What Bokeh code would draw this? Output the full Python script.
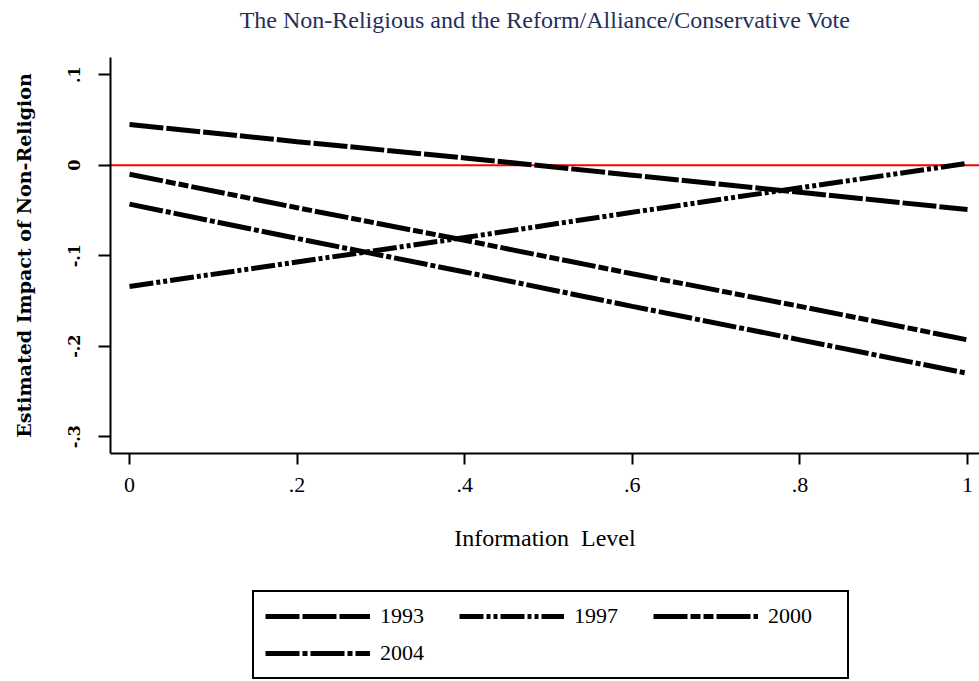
from bokeh.plotting import figure
from bokeh.layouts import column
from bokeh.models import Legend, LegendItem, Span, FixedTicker, Range1d, ColumnDataSource, Title
from bokeh.embed import file_html
from bokeh.resources import INLINE

# ---- data ----
info_level = [0.0, 0.2, 0.4, 0.6, 0.8, 1.0]
impact_1993 = [0.045, 0.026, 0.008, -0.011, -0.030, -0.049]
impact_1997 = [-0.134, -0.107, -0.080, -0.052, -0.025, 0.002]
impact_2000 = [-0.010, -0.047, -0.083, -0.120, -0.156, -0.193]
impact_2004 = [-0.043, -0.081, -0.118, -0.156, -0.193, -0.230]
years = ["1993", "1997", "2000", "2004"]

x_ticks = [0, 0.2, 0.4, 0.6, 0.8, 1]
x_tick_labels = ["0", ".2", ".4", ".6", ".8", "1"]
y_ticks = [0.1, 0, -0.1, -0.2, -0.3]
y_tick_labels = [".1", "0", "-.1", "-.2", "-.3"]

title_text = "The Non-Religious and the Reform/Alliance/Conservative Vote"
x_title = "Information\u00a0\u00a0Level"
y_title = "Estimated Impact of Non-Religion"

# ---- styles ----
dashes = ["34 3", "24 3 4 3 4 3", "34 3 10 3 10 3", "34 3 5 3"]
serif = "Liberation Serif"

p = figure(width=979, height=581, output_backend="svg", toolbar_location=None,
           x_range=Range1d(-0.0227, 1.0143), y_range=Range1d(-0.3186, 0.119),
           min_border_left=110, min_border_right=0, min_border_top=57,
           min_border_bottom=128, title=title_text)
p.outline_line_color = None
p.background_fill_color = "white"
p.border_fill_color = "white"
p.xgrid.visible = False
p.ygrid.visible = False

p.title.align = "center"
p.title.text_font = serif
p.title.text_font_size = "24px"
p.title.text_font_style = "normal"
p.title.text_color = "#1f2f5e"
p.title.standoff = 4
# small spacer between the title and the frame
p.add_layout(Title(text=" ", text_font_size="1px", standoff=20), "above")

# x axis
xa = p.xaxis[0]
xa.ticker = FixedTicker(ticks=x_ticks)
xa.major_label_overrides = {t: l for t, l in zip(x_ticks, x_tick_labels)}
xa.minor_tick_line_color = None
xa.major_tick_out = 11
xa.major_tick_in = 0
xa.major_tick_line_width = 2
xa.major_tick_line_color = "black"
xa.axis_line_width = 2
xa.axis_line_color = "black"
xa.major_label_text_font = serif
xa.major_label_text_font_size = "22px"
xa.major_label_text_color = "black"
xa.major_label_standoff = 13
xa.axis_label = x_title
xa.axis_label_text_font = serif
xa.axis_label_text_font_size = "24px"
xa.axis_label_text_font_style = "normal"
xa.axis_label_text_color = "black"
xa.axis_label_standoff = 30

# y axis
ya = p.yaxis[0]
ya.ticker = FixedTicker(ticks=y_ticks)
ya.major_label_overrides = {t: l for t, l in zip(y_ticks, y_tick_labels)}
ya.minor_tick_line_color = None
ya.major_tick_out = 12
ya.major_tick_in = 0
ya.major_tick_line_width = 2
ya.major_tick_line_color = "black"
ya.axis_line_width = 2
ya.axis_line_color = "black"
ya.major_label_orientation = "vertical"
ya.major_label_text_font = "DejaVu Serif"
ya.major_label_text_font_size = "16px"
ya.major_label_text_font_style = "bold"
ya.major_label_text_color = "black"
ya.major_label_standoff = 18
ya.axis_label = y_title
ya.axis_label_text_font = "DejaVu Serif"
ya.axis_label_text_font_size = "19px"
ya.axis_label_text_font_style = "bold"
ya.axis_label_text_color = "black"
ya.axis_label_standoff = 31

zero = Span(location=0, dimension="width", line_color="red", line_width=2, level="underlay")
p.add_layout(zero)

series = [impact_1993, impact_1997, impact_2000, impact_2004]
for vals, dash in zip(series, dashes):
    src = ColumnDataSource(dict(x=info_level, y=vals))
    p.line("x", "y", source=src, line_color="black", line_width=5, line_dash=dash)

# ---- legend strip below the chart (its lines lie outside its visible range) ----
lg = figure(width=979, height=100, output_backend="svg", toolbar_location=None,
            x_axis_type=None, y_axis_type=None, min_border=0,
            x_range=Range1d(10, 11), y_range=Range1d(10, 11))
lg.outline_line_color = None
lg.xgrid.visible = False
lg.ygrid.visible = False
items = []
for yr, vals, dash in zip(years, series, dashes):
    src = ColumnDataSource(dict(x=info_level, y=vals))
    r = lg.line("x", "y", source=src, line_color="black", line_width=5, line_dash=dash)
    items.append(LegendItem(label=yr, renderers=[r]))

leg = Legend(items=items, orientation="horizontal", ncols=3,
             location=(142, 2), padding=11, spacing=11,
             glyph_width=105, glyph_height=26, label_height=26, label_width=68,
             label_standoff=10, label_text_font=serif, label_text_font_size="22px",
             label_text_color="black",
             border_line_color="black", border_line_width=2, border_line_alpha=1.0,
             background_fill_color="white", background_fill_alpha=1.0)
lg.add_layout(leg, "center")

layout = column(p, lg, spacing=0)
open("out.html", "w").write(file_html(layout, INLINE))
